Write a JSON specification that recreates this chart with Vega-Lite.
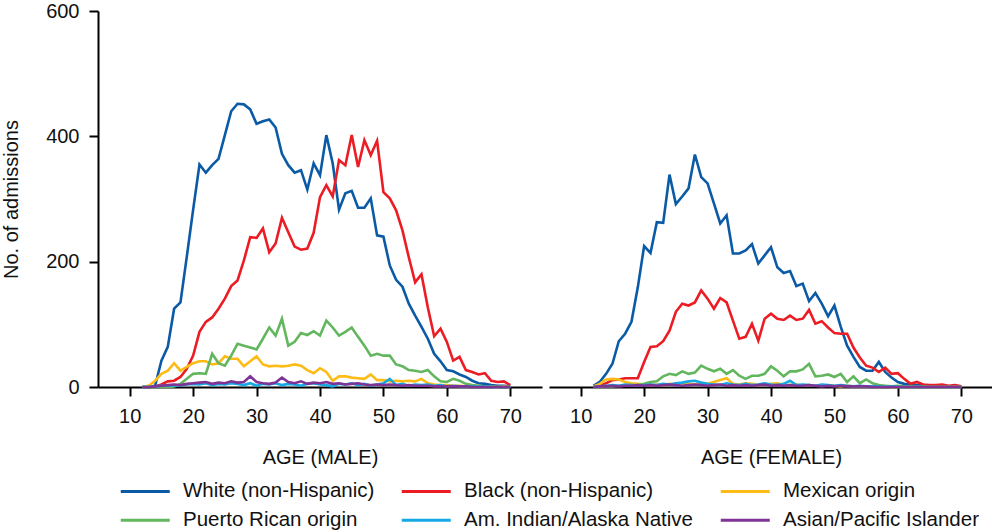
{
"$schema": "https://vega.github.io/schema/vega-lite/v6.json",
"padding": {"left": 1, "top": 1, "right": 0, "bottom": 0},
"config": {
  "font": "Liberation Sans",
  "view": {"stroke": null},
  "concat": {"spacing": 7},
  "axis": {"grid": false, "domainColor": "#000000", "domainWidth": 2, "tickColor": "#000000", "tickWidth": 2, "tickSize": 9, "labelFontSize": 20, "labelColor": "#111111", "titleFontSize": 20, "titleFontWeight": "normal", "titleColor": "#111111", "labelFlush": false, "labelOverlap": false, "labelBound": false}
},
"resolve": {"scale": {"color": "shared"}},
"datasets": {"adm": [
{"sex":"Male","age":12,"race":"White (non-Hispanic)","n":0},{"sex":"Male","age":13,"race":"White (non-Hispanic)","n":0},{"sex":"Male","age":14,"race":"White (non-Hispanic)","n":2},{"sex":"Male","age":15,"race":"White (non-Hispanic)","n":42},{"sex":"Male","age":16,"race":"White (non-Hispanic)","n":64},{"sex":"Male","age":17,"race":"White (non-Hispanic)","n":125},{"sex":"Male","age":18,"race":"White (non-Hispanic)","n":135},{"sex":"Male","age":19,"race":"White (non-Hispanic)","n":208},{"sex":"Male","age":20,"race":"White (non-Hispanic)","n":283},{"sex":"Male","age":21,"race":"White (non-Hispanic)","n":355},{"sex":"Male","age":22,"race":"White (non-Hispanic)","n":342},{"sex":"Male","age":23,"race":"White (non-Hispanic)","n":354},{"sex":"Male","age":24,"race":"White (non-Hispanic)","n":364},{"sex":"Male","age":25,"race":"White (non-Hispanic)","n":402},{"sex":"Male","age":26,"race":"White (non-Hispanic)","n":440},{"sex":"Male","age":27,"race":"White (non-Hispanic)","n":452},{"sex":"Male","age":28,"race":"White (non-Hispanic)","n":451},{"sex":"Male","age":29,"race":"White (non-Hispanic)","n":443},{"sex":"Male","age":30,"race":"White (non-Hispanic)","n":420},{"sex":"Male","age":31,"race":"White (non-Hispanic)","n":424},{"sex":"Male","age":32,"race":"White (non-Hispanic)","n":427},{"sex":"Male","age":33,"race":"White (non-Hispanic)","n":414},{"sex":"Male","age":34,"race":"White (non-Hispanic)","n":372},{"sex":"Male","age":35,"race":"White (non-Hispanic)","n":354},{"sex":"Male","age":36,"race":"White (non-Hispanic)","n":342},{"sex":"Male","age":37,"race":"White (non-Hispanic)","n":346},{"sex":"Male","age":38,"race":"White (non-Hispanic)","n":315},{"sex":"Male","age":39,"race":"White (non-Hispanic)","n":357},{"sex":"Male","age":40,"race":"White (non-Hispanic)","n":338},{"sex":"Male","age":41,"race":"White (non-Hispanic)","n":402},{"sex":"Male","age":42,"race":"White (non-Hispanic)","n":357},{"sex":"Male","age":43,"race":"White (non-Hispanic)","n":283},{"sex":"Male","age":44,"race":"White (non-Hispanic)","n":309},{"sex":"Male","age":45,"race":"White (non-Hispanic)","n":313},{"sex":"Male","age":46,"race":"White (non-Hispanic)","n":286},{"sex":"Male","age":47,"race":"White (non-Hispanic)","n":286},{"sex":"Male","age":48,"race":"White (non-Hispanic)","n":301},{"sex":"Male","age":49,"race":"White (non-Hispanic)","n":242},{"sex":"Male","age":50,"race":"White (non-Hispanic)","n":240},{"sex":"Male","age":51,"race":"White (non-Hispanic)","n":194},{"sex":"Male","age":52,"race":"White (non-Hispanic)","n":171},{"sex":"Male","age":53,"race":"White (non-Hispanic)","n":160},{"sex":"Male","age":54,"race":"White (non-Hispanic)","n":133},{"sex":"Male","age":55,"race":"White (non-Hispanic)","n":114},{"sex":"Male","age":56,"race":"White (non-Hispanic)","n":96},{"sex":"Male","age":57,"race":"White (non-Hispanic)","n":77},{"sex":"Male","age":58,"race":"White (non-Hispanic)","n":53},{"sex":"Male","age":59,"race":"White (non-Hispanic)","n":41},{"sex":"Male","age":60,"race":"White (non-Hispanic)","n":27},{"sex":"Male","age":61,"race":"White (non-Hispanic)","n":25},{"sex":"Male","age":62,"race":"White (non-Hispanic)","n":20},{"sex":"Male","age":63,"race":"White (non-Hispanic)","n":16},{"sex":"Male","age":64,"race":"White (non-Hispanic)","n":10},{"sex":"Male","age":65,"race":"White (non-Hispanic)","n":6},{"sex":"Male","age":66,"race":"White (non-Hispanic)","n":5},{"sex":"Male","age":67,"race":"White (non-Hispanic)","n":3},{"sex":"Male","age":68,"race":"White (non-Hispanic)","n":2},{"sex":"Male","age":69,"race":"White (non-Hispanic)","n":2},{"sex":"Male","age":70,"race":"White (non-Hispanic)","n":1},
{"sex":"Male","age":12,"race":"Black (non-Hispanic)","n":0},{"sex":"Male","age":13,"race":"Black (non-Hispanic)","n":0},{"sex":"Male","age":14,"race":"Black (non-Hispanic)","n":1},{"sex":"Male","age":15,"race":"Black (non-Hispanic)","n":4},{"sex":"Male","age":16,"race":"Black (non-Hispanic)","n":9},{"sex":"Male","age":17,"race":"Black (non-Hispanic)","n":10},{"sex":"Male","age":18,"race":"Black (non-Hispanic)","n":16},{"sex":"Male","age":19,"race":"Black (non-Hispanic)","n":29},{"sex":"Male","age":20,"race":"Black (non-Hispanic)","n":50},{"sex":"Male","age":21,"race":"Black (non-Hispanic)","n":88},{"sex":"Male","age":22,"race":"Black (non-Hispanic)","n":104},{"sex":"Male","age":23,"race":"Black (non-Hispanic)","n":111},{"sex":"Male","age":24,"race":"Black (non-Hispanic)","n":125},{"sex":"Male","age":25,"race":"Black (non-Hispanic)","n":141},{"sex":"Male","age":26,"race":"Black (non-Hispanic)","n":161},{"sex":"Male","age":27,"race":"Black (non-Hispanic)","n":170},{"sex":"Male","age":28,"race":"Black (non-Hispanic)","n":202},{"sex":"Male","age":29,"race":"Black (non-Hispanic)","n":239},{"sex":"Male","age":30,"race":"Black (non-Hispanic)","n":238},{"sex":"Male","age":31,"race":"Black (non-Hispanic)","n":253},{"sex":"Male","age":32,"race":"Black (non-Hispanic)","n":215},{"sex":"Male","age":33,"race":"Black (non-Hispanic)","n":229},{"sex":"Male","age":34,"race":"Black (non-Hispanic)","n":270},{"sex":"Male","age":35,"race":"Black (non-Hispanic)","n":247},{"sex":"Male","age":36,"race":"Black (non-Hispanic)","n":224},{"sex":"Male","age":37,"race":"Black (non-Hispanic)","n":219},{"sex":"Male","age":38,"race":"Black (non-Hispanic)","n":221},{"sex":"Male","age":39,"race":"Black (non-Hispanic)","n":246},{"sex":"Male","age":40,"race":"Black (non-Hispanic)","n":303},{"sex":"Male","age":41,"race":"Black (non-Hispanic)","n":322},{"sex":"Male","age":42,"race":"Black (non-Hispanic)","n":304},{"sex":"Male","age":43,"race":"Black (non-Hispanic)","n":362},{"sex":"Male","age":44,"race":"Black (non-Hispanic)","n":354},{"sex":"Male","age":45,"race":"Black (non-Hispanic)","n":402},{"sex":"Male","age":46,"race":"Black (non-Hispanic)","n":351},{"sex":"Male","age":47,"race":"Black (non-Hispanic)","n":394},{"sex":"Male","age":48,"race":"Black (non-Hispanic)","n":370},{"sex":"Male","age":49,"race":"Black (non-Hispanic)","n":393},{"sex":"Male","age":50,"race":"Black (non-Hispanic)","n":311},{"sex":"Male","age":51,"race":"Black (non-Hispanic)","n":301},{"sex":"Male","age":52,"race":"Black (non-Hispanic)","n":282},{"sex":"Male","age":53,"race":"Black (non-Hispanic)","n":250},{"sex":"Male","age":54,"race":"Black (non-Hispanic)","n":207},{"sex":"Male","age":55,"race":"Black (non-Hispanic)","n":167},{"sex":"Male","age":56,"race":"Black (non-Hispanic)","n":180},{"sex":"Male","age":57,"race":"Black (non-Hispanic)","n":127},{"sex":"Male","age":58,"race":"Black (non-Hispanic)","n":81},{"sex":"Male","age":59,"race":"Black (non-Hispanic)","n":93},{"sex":"Male","age":60,"race":"Black (non-Hispanic)","n":72},{"sex":"Male","age":61,"race":"Black (non-Hispanic)","n":42},{"sex":"Male","age":62,"race":"Black (non-Hispanic)","n":48},{"sex":"Male","age":63,"race":"Black (non-Hispanic)","n":27},{"sex":"Male","age":64,"race":"Black (non-Hispanic)","n":24},{"sex":"Male","age":65,"race":"Black (non-Hispanic)","n":20},{"sex":"Male","age":66,"race":"Black (non-Hispanic)","n":22},{"sex":"Male","age":67,"race":"Black (non-Hispanic)","n":10},{"sex":"Male","age":68,"race":"Black (non-Hispanic)","n":8},{"sex":"Male","age":69,"race":"Black (non-Hispanic)","n":9},{"sex":"Male","age":70,"race":"Black (non-Hispanic)","n":3},
{"sex":"Male","age":12,"race":"Mexican origin","n":0},{"sex":"Male","age":13,"race":"Mexican origin","n":2},{"sex":"Male","age":14,"race":"Mexican origin","n":10},{"sex":"Male","age":15,"race":"Mexican origin","n":21},{"sex":"Male","age":16,"race":"Mexican origin","n":26},{"sex":"Male","age":17,"race":"Mexican origin","n":38},{"sex":"Male","age":18,"race":"Mexican origin","n":26},{"sex":"Male","age":19,"race":"Mexican origin","n":32},{"sex":"Male","age":20,"race":"Mexican origin","n":38},{"sex":"Male","age":21,"race":"Mexican origin","n":41},{"sex":"Male","age":22,"race":"Mexican origin","n":41},{"sex":"Male","age":23,"race":"Mexican origin","n":36},{"sex":"Male","age":24,"race":"Mexican origin","n":38},{"sex":"Male","age":25,"race":"Mexican origin","n":49},{"sex":"Male","age":26,"race":"Mexican origin","n":45},{"sex":"Male","age":27,"race":"Mexican origin","n":45},{"sex":"Male","age":28,"race":"Mexican origin","n":33},{"sex":"Male","age":29,"race":"Mexican origin","n":41},{"sex":"Male","age":30,"race":"Mexican origin","n":49},{"sex":"Male","age":31,"race":"Mexican origin","n":36},{"sex":"Male","age":32,"race":"Mexican origin","n":33},{"sex":"Male","age":33,"race":"Mexican origin","n":34},{"sex":"Male","age":34,"race":"Mexican origin","n":33},{"sex":"Male","age":35,"race":"Mexican origin","n":34},{"sex":"Male","age":36,"race":"Mexican origin","n":36},{"sex":"Male","age":37,"race":"Mexican origin","n":34},{"sex":"Male","age":38,"race":"Mexican origin","n":27},{"sex":"Male","age":39,"race":"Mexican origin","n":22},{"sex":"Male","age":40,"race":"Mexican origin","n":30},{"sex":"Male","age":41,"race":"Mexican origin","n":24},{"sex":"Male","age":42,"race":"Mexican origin","n":10},{"sex":"Male","age":43,"race":"Mexican origin","n":17},{"sex":"Male","age":44,"race":"Mexican origin","n":17},{"sex":"Male","age":45,"race":"Mexican origin","n":15},{"sex":"Male","age":46,"race":"Mexican origin","n":14},{"sex":"Male","age":47,"race":"Mexican origin","n":13},{"sex":"Male","age":48,"race":"Mexican origin","n":20},{"sex":"Male","age":49,"race":"Mexican origin","n":11},{"sex":"Male","age":50,"race":"Mexican origin","n":11},{"sex":"Male","age":51,"race":"Mexican origin","n":9},{"sex":"Male","age":52,"race":"Mexican origin","n":10},{"sex":"Male","age":53,"race":"Mexican origin","n":9},{"sex":"Male","age":54,"race":"Mexican origin","n":10},{"sex":"Male","age":55,"race":"Mexican origin","n":9},{"sex":"Male","age":56,"race":"Mexican origin","n":13},{"sex":"Male","age":57,"race":"Mexican origin","n":6},{"sex":"Male","age":58,"race":"Mexican origin","n":4},{"sex":"Male","age":59,"race":"Mexican origin","n":3},{"sex":"Male","age":60,"race":"Mexican origin","n":3},{"sex":"Male","age":61,"race":"Mexican origin","n":2},{"sex":"Male","age":62,"race":"Mexican origin","n":2},{"sex":"Male","age":63,"race":"Mexican origin","n":1},{"sex":"Male","age":64,"race":"Mexican origin","n":2},{"sex":"Male","age":65,"race":"Mexican origin","n":1},{"sex":"Male","age":66,"race":"Mexican origin","n":1},{"sex":"Male","age":67,"race":"Mexican origin","n":1},{"sex":"Male","age":68,"race":"Mexican origin","n":0},{"sex":"Male","age":69,"race":"Mexican origin","n":1},{"sex":"Male","age":70,"race":"Mexican origin","n":0},
{"sex":"Male","age":12,"race":"Puerto Rican origin","n":0},{"sex":"Male","age":13,"race":"Puerto Rican origin","n":0},{"sex":"Male","age":14,"race":"Puerto Rican origin","n":0},{"sex":"Male","age":15,"race":"Puerto Rican origin","n":0},{"sex":"Male","age":16,"race":"Puerto Rican origin","n":0},{"sex":"Male","age":17,"race":"Puerto Rican origin","n":1},{"sex":"Male","age":18,"race":"Puerto Rican origin","n":5},{"sex":"Male","age":19,"race":"Puerto Rican origin","n":13},{"sex":"Male","age":20,"race":"Puerto Rican origin","n":21},{"sex":"Male","age":21,"race":"Puerto Rican origin","n":22},{"sex":"Male","age":22,"race":"Puerto Rican origin","n":21},{"sex":"Male","age":23,"race":"Puerto Rican origin","n":53},{"sex":"Male","age":24,"race":"Puerto Rican origin","n":38},{"sex":"Male","age":25,"race":"Puerto Rican origin","n":34},{"sex":"Male","age":26,"race":"Puerto Rican origin","n":50},{"sex":"Male","age":27,"race":"Puerto Rican origin","n":69},{"sex":"Male","age":28,"race":"Puerto Rican origin","n":66},{"sex":"Male","age":29,"race":"Puerto Rican origin","n":63},{"sex":"Male","age":30,"race":"Puerto Rican origin","n":60},{"sex":"Male","age":31,"race":"Puerto Rican origin","n":77},{"sex":"Male","age":32,"race":"Puerto Rican origin","n":95},{"sex":"Male","age":33,"race":"Puerto Rican origin","n":82},{"sex":"Male","age":34,"race":"Puerto Rican origin","n":109},{"sex":"Male","age":35,"race":"Puerto Rican origin","n":66},{"sex":"Male","age":36,"race":"Puerto Rican origin","n":72},{"sex":"Male","age":37,"race":"Puerto Rican origin","n":86},{"sex":"Male","age":38,"race":"Puerto Rican origin","n":83},{"sex":"Male","age":39,"race":"Puerto Rican origin","n":89},{"sex":"Male","age":40,"race":"Puerto Rican origin","n":82},{"sex":"Male","age":41,"race":"Puerto Rican origin","n":106},{"sex":"Male","age":42,"race":"Puerto Rican origin","n":95},{"sex":"Male","age":43,"race":"Puerto Rican origin","n":82},{"sex":"Male","age":44,"race":"Puerto Rican origin","n":88},{"sex":"Male","age":45,"race":"Puerto Rican origin","n":95},{"sex":"Male","age":46,"race":"Puerto Rican origin","n":80},{"sex":"Male","age":47,"race":"Puerto Rican origin","n":66},{"sex":"Male","age":48,"race":"Puerto Rican origin","n":50},{"sex":"Male","age":49,"race":"Puerto Rican origin","n":53},{"sex":"Male","age":50,"race":"Puerto Rican origin","n":50},{"sex":"Male","age":51,"race":"Puerto Rican origin","n":50},{"sex":"Male","age":52,"race":"Puerto Rican origin","n":36},{"sex":"Male","age":53,"race":"Puerto Rican origin","n":33},{"sex":"Male","age":54,"race":"Puerto Rican origin","n":27},{"sex":"Male","age":55,"race":"Puerto Rican origin","n":26},{"sex":"Male","age":56,"race":"Puerto Rican origin","n":24},{"sex":"Male","age":57,"race":"Puerto Rican origin","n":27},{"sex":"Male","age":58,"race":"Puerto Rican origin","n":17},{"sex":"Male","age":59,"race":"Puerto Rican origin","n":9},{"sex":"Male","age":60,"race":"Puerto Rican origin","n":8},{"sex":"Male","age":61,"race":"Puerto Rican origin","n":13},{"sex":"Male","age":62,"race":"Puerto Rican origin","n":10},{"sex":"Male","age":63,"race":"Puerto Rican origin","n":5},{"sex":"Male","age":64,"race":"Puerto Rican origin","n":3},{"sex":"Male","age":65,"race":"Puerto Rican origin","n":2},{"sex":"Male","age":66,"race":"Puerto Rican origin","n":1},{"sex":"Male","age":67,"race":"Puerto Rican origin","n":1},{"sex":"Male","age":68,"race":"Puerto Rican origin","n":0},{"sex":"Male","age":69,"race":"Puerto Rican origin","n":0},{"sex":"Male","age":70,"race":"Puerto Rican origin","n":0},
{"sex":"Male","age":12,"race":"Am. Indian/Alaska Native","n":0},{"sex":"Male","age":13,"race":"Am. Indian/Alaska Native","n":0},{"sex":"Male","age":14,"race":"Am. Indian/Alaska Native","n":1},{"sex":"Male","age":15,"race":"Am. Indian/Alaska Native","n":2},{"sex":"Male","age":16,"race":"Am. Indian/Alaska Native","n":2},{"sex":"Male","age":17,"race":"Am. Indian/Alaska Native","n":3},{"sex":"Male","age":18,"race":"Am. Indian/Alaska Native","n":2},{"sex":"Male","age":19,"race":"Am. Indian/Alaska Native","n":4},{"sex":"Male","age":20,"race":"Am. Indian/Alaska Native","n":5},{"sex":"Male","age":21,"race":"Am. Indian/Alaska Native","n":4},{"sex":"Male","age":22,"race":"Am. Indian/Alaska Native","n":6},{"sex":"Male","age":23,"race":"Am. Indian/Alaska Native","n":3},{"sex":"Male","age":24,"race":"Am. Indian/Alaska Native","n":5},{"sex":"Male","age":25,"race":"Am. Indian/Alaska Native","n":4},{"sex":"Male","age":26,"race":"Am. Indian/Alaska Native","n":6},{"sex":"Male","age":27,"race":"Am. Indian/Alaska Native","n":5},{"sex":"Male","age":28,"race":"Am. Indian/Alaska Native","n":3},{"sex":"Male","age":29,"race":"Am. Indian/Alaska Native","n":6},{"sex":"Male","age":30,"race":"Am. Indian/Alaska Native","n":2},{"sex":"Male","age":31,"race":"Am. Indian/Alaska Native","n":5},{"sex":"Male","age":32,"race":"Am. Indian/Alaska Native","n":4},{"sex":"Male","age":33,"race":"Am. Indian/Alaska Native","n":6},{"sex":"Male","age":34,"race":"Am. Indian/Alaska Native","n":3},{"sex":"Male","age":35,"race":"Am. Indian/Alaska Native","n":5},{"sex":"Male","age":36,"race":"Am. Indian/Alaska Native","n":4},{"sex":"Male","age":37,"race":"Am. Indian/Alaska Native","n":2},{"sex":"Male","age":38,"race":"Am. Indian/Alaska Native","n":5},{"sex":"Male","age":39,"race":"Am. Indian/Alaska Native","n":6},{"sex":"Male","age":40,"race":"Am. Indian/Alaska Native","n":4},{"sex":"Male","age":41,"race":"Am. Indian/Alaska Native","n":3},{"sex":"Male","age":42,"race":"Am. Indian/Alaska Native","n":1},{"sex":"Male","age":43,"race":"Am. Indian/Alaska Native","n":5},{"sex":"Male","age":44,"race":"Am. Indian/Alaska Native","n":4},{"sex":"Male","age":45,"race":"Am. Indian/Alaska Native","n":6},{"sex":"Male","age":46,"race":"Am. Indian/Alaska Native","n":3},{"sex":"Male","age":47,"race":"Am. Indian/Alaska Native","n":5},{"sex":"Male","age":48,"race":"Am. Indian/Alaska Native","n":2},{"sex":"Male","age":49,"race":"Am. Indian/Alaska Native","n":4},{"sex":"Male","age":50,"race":"Am. Indian/Alaska Native","n":6},{"sex":"Male","age":51,"race":"Am. Indian/Alaska Native","n":13},{"sex":"Male","age":52,"race":"Am. Indian/Alaska Native","n":3},{"sex":"Male","age":53,"race":"Am. Indian/Alaska Native","n":5},{"sex":"Male","age":54,"race":"Am. Indian/Alaska Native","n":2},{"sex":"Male","age":55,"race":"Am. Indian/Alaska Native","n":4},{"sex":"Male","age":56,"race":"Am. Indian/Alaska Native","n":3},{"sex":"Male","age":57,"race":"Am. Indian/Alaska Native","n":4},{"sex":"Male","age":58,"race":"Am. Indian/Alaska Native","n":2},{"sex":"Male","age":59,"race":"Am. Indian/Alaska Native","n":3},{"sex":"Male","age":60,"race":"Am. Indian/Alaska Native","n":1},{"sex":"Male","age":61,"race":"Am. Indian/Alaska Native","n":2},{"sex":"Male","age":62,"race":"Am. Indian/Alaska Native","n":1},{"sex":"Male","age":63,"race":"Am. Indian/Alaska Native","n":1},{"sex":"Male","age":64,"race":"Am. Indian/Alaska Native","n":1},{"sex":"Male","age":65,"race":"Am. Indian/Alaska Native","n":0},{"sex":"Male","age":66,"race":"Am. Indian/Alaska Native","n":1},{"sex":"Male","age":67,"race":"Am. Indian/Alaska Native","n":0},{"sex":"Male","age":68,"race":"Am. Indian/Alaska Native","n":0},{"sex":"Male","age":69,"race":"Am. Indian/Alaska Native","n":0},{"sex":"Male","age":70,"race":"Am. Indian/Alaska Native","n":0},
{"sex":"Male","age":12,"race":"Asian/Pacific Islander","n":0},{"sex":"Male","age":13,"race":"Asian/Pacific Islander","n":0},{"sex":"Male","age":14,"race":"Asian/Pacific Islander","n":1},{"sex":"Male","age":15,"race":"Asian/Pacific Islander","n":2},{"sex":"Male","age":16,"race":"Asian/Pacific Islander","n":3},{"sex":"Male","age":17,"race":"Asian/Pacific Islander","n":4},{"sex":"Male","age":18,"race":"Asian/Pacific Islander","n":3},{"sex":"Male","age":19,"race":"Asian/Pacific Islander","n":5},{"sex":"Male","age":20,"race":"Asian/Pacific Islander","n":6},{"sex":"Male","age":21,"race":"Asian/Pacific Islander","n":7},{"sex":"Male","age":22,"race":"Asian/Pacific Islander","n":8},{"sex":"Male","age":23,"race":"Asian/Pacific Islander","n":5},{"sex":"Male","age":24,"race":"Asian/Pacific Islander","n":7},{"sex":"Male","age":25,"race":"Asian/Pacific Islander","n":6},{"sex":"Male","age":26,"race":"Asian/Pacific Islander","n":9},{"sex":"Male","age":27,"race":"Asian/Pacific Islander","n":7},{"sex":"Male","age":28,"race":"Asian/Pacific Islander","n":8},{"sex":"Male","age":29,"race":"Asian/Pacific Islander","n":17},{"sex":"Male","age":30,"race":"Asian/Pacific Islander","n":8},{"sex":"Male","age":31,"race":"Asian/Pacific Islander","n":6},{"sex":"Male","age":32,"race":"Asian/Pacific Islander","n":5},{"sex":"Male","age":33,"race":"Asian/Pacific Islander","n":7},{"sex":"Male","age":34,"race":"Asian/Pacific Islander","n":15},{"sex":"Male","age":35,"race":"Asian/Pacific Islander","n":8},{"sex":"Male","age":36,"race":"Asian/Pacific Islander","n":6},{"sex":"Male","age":37,"race":"Asian/Pacific Islander","n":9},{"sex":"Male","age":38,"race":"Asian/Pacific Islander","n":5},{"sex":"Male","age":39,"race":"Asian/Pacific Islander","n":7},{"sex":"Male","age":40,"race":"Asian/Pacific Islander","n":6},{"sex":"Male","age":41,"race":"Asian/Pacific Islander","n":8},{"sex":"Male","age":42,"race":"Asian/Pacific Islander","n":5},{"sex":"Male","age":43,"race":"Asian/Pacific Islander","n":6},{"sex":"Male","age":44,"race":"Asian/Pacific Islander","n":4},{"sex":"Male","age":45,"race":"Asian/Pacific Islander","n":5},{"sex":"Male","age":46,"race":"Asian/Pacific Islander","n":6},{"sex":"Male","age":47,"race":"Asian/Pacific Islander","n":4},{"sex":"Male","age":48,"race":"Asian/Pacific Islander","n":3},{"sex":"Male","age":49,"race":"Asian/Pacific Islander","n":4},{"sex":"Male","age":50,"race":"Asian/Pacific Islander","n":3},{"sex":"Male","age":51,"race":"Asian/Pacific Islander","n":4},{"sex":"Male","age":52,"race":"Asian/Pacific Islander","n":3},{"sex":"Male","age":53,"race":"Asian/Pacific Islander","n":2},{"sex":"Male","age":54,"race":"Asian/Pacific Islander","n":3},{"sex":"Male","age":55,"race":"Asian/Pacific Islander","n":2},{"sex":"Male","age":56,"race":"Asian/Pacific Islander","n":2},{"sex":"Male","age":57,"race":"Asian/Pacific Islander","n":2},{"sex":"Male","age":58,"race":"Asian/Pacific Islander","n":1},{"sex":"Male","age":59,"race":"Asian/Pacific Islander","n":1},{"sex":"Male","age":60,"race":"Asian/Pacific Islander","n":1},{"sex":"Male","age":61,"race":"Asian/Pacific Islander","n":1},{"sex":"Male","age":62,"race":"Asian/Pacific Islander","n":1},{"sex":"Male","age":63,"race":"Asian/Pacific Islander","n":1},{"sex":"Male","age":64,"race":"Asian/Pacific Islander","n":0},{"sex":"Male","age":65,"race":"Asian/Pacific Islander","n":0},{"sex":"Male","age":66,"race":"Asian/Pacific Islander","n":0},{"sex":"Male","age":67,"race":"Asian/Pacific Islander","n":0},{"sex":"Male","age":68,"race":"Asian/Pacific Islander","n":0},{"sex":"Male","age":69,"race":"Asian/Pacific Islander","n":0},{"sex":"Male","age":70,"race":"Asian/Pacific Islander","n":0},
{"sex":"Female","age":12,"race":"White (non-Hispanic)","n":2},{"sex":"Female","age":13,"race":"White (non-Hispanic)","n":8},{"sex":"Female","age":14,"race":"White (non-Hispanic)","n":21},{"sex":"Female","age":15,"race":"White (non-Hispanic)","n":37},{"sex":"Female","age":16,"race":"White (non-Hispanic)","n":73},{"sex":"Female","age":17,"race":"White (non-Hispanic)","n":85},{"sex":"Female","age":18,"race":"White (non-Hispanic)","n":104},{"sex":"Female","age":19,"race":"White (non-Hispanic)","n":159},{"sex":"Female","age":20,"race":"White (non-Hispanic)","n":225},{"sex":"Female","age":21,"race":"White (non-Hispanic)","n":214},{"sex":"Female","age":22,"race":"White (non-Hispanic)","n":263},{"sex":"Female","age":23,"race":"White (non-Hispanic)","n":262},{"sex":"Female","age":24,"race":"White (non-Hispanic)","n":339},{"sex":"Female","age":25,"race":"White (non-Hispanic)","n":292},{"sex":"Female","age":26,"race":"White (non-Hispanic)","n":304},{"sex":"Female","age":27,"race":"White (non-Hispanic)","n":317},{"sex":"Female","age":28,"race":"White (non-Hispanic)","n":371},{"sex":"Female","age":29,"race":"White (non-Hispanic)","n":335},{"sex":"Female","age":30,"race":"White (non-Hispanic)","n":325},{"sex":"Female","age":31,"race":"White (non-Hispanic)","n":293},{"sex":"Female","age":32,"race":"White (non-Hispanic)","n":261},{"sex":"Female","age":33,"race":"White (non-Hispanic)","n":274},{"sex":"Female","age":34,"race":"White (non-Hispanic)","n":213},{"sex":"Female","age":35,"race":"White (non-Hispanic)","n":213},{"sex":"Female","age":36,"race":"White (non-Hispanic)","n":218},{"sex":"Female","age":37,"race":"White (non-Hispanic)","n":228},{"sex":"Female","age":38,"race":"White (non-Hispanic)","n":197},{"sex":"Female","age":39,"race":"White (non-Hispanic)","n":210},{"sex":"Female","age":40,"race":"White (non-Hispanic)","n":223},{"sex":"Female","age":41,"race":"White (non-Hispanic)","n":191},{"sex":"Female","age":42,"race":"White (non-Hispanic)","n":182},{"sex":"Female","age":43,"race":"White (non-Hispanic)","n":185},{"sex":"Female","age":44,"race":"White (non-Hispanic)","n":161},{"sex":"Female","age":45,"race":"White (non-Hispanic)","n":165},{"sex":"Female","age":46,"race":"White (non-Hispanic)","n":137},{"sex":"Female","age":47,"race":"White (non-Hispanic)","n":150},{"sex":"Female","age":48,"race":"White (non-Hispanic)","n":133},{"sex":"Female","age":49,"race":"White (non-Hispanic)","n":113},{"sex":"Female","age":50,"race":"White (non-Hispanic)","n":130},{"sex":"Female","age":51,"race":"White (non-Hispanic)","n":96},{"sex":"Female","age":52,"race":"White (non-Hispanic)","n":66},{"sex":"Female","age":53,"race":"White (non-Hispanic)","n":48},{"sex":"Female","age":54,"race":"White (non-Hispanic)","n":32},{"sex":"Female","age":55,"race":"White (non-Hispanic)","n":26},{"sex":"Female","age":56,"race":"White (non-Hispanic)","n":26},{"sex":"Female","age":57,"race":"White (non-Hispanic)","n":40},{"sex":"Female","age":58,"race":"White (non-Hispanic)","n":24},{"sex":"Female","age":59,"race":"White (non-Hispanic)","n":15},{"sex":"Female","age":60,"race":"White (non-Hispanic)","n":8},{"sex":"Female","age":61,"race":"White (non-Hispanic)","n":5},{"sex":"Female","age":62,"race":"White (non-Hispanic)","n":4},{"sex":"Female","age":63,"race":"White (non-Hispanic)","n":3},{"sex":"Female","age":64,"race":"White (non-Hispanic)","n":3},{"sex":"Female","age":65,"race":"White (non-Hispanic)","n":2},{"sex":"Female","age":66,"race":"White (non-Hispanic)","n":2},{"sex":"Female","age":67,"race":"White (non-Hispanic)","n":2},{"sex":"Female","age":68,"race":"White (non-Hispanic)","n":1},{"sex":"Female","age":69,"race":"White (non-Hispanic)","n":1},{"sex":"Female","age":70,"race":"White (non-Hispanic)","n":1},
{"sex":"Female","age":12,"race":"Black (non-Hispanic)","n":0},{"sex":"Female","age":13,"race":"Black (non-Hispanic)","n":2},{"sex":"Female","age":14,"race":"Black (non-Hispanic)","n":6},{"sex":"Female","age":15,"race":"Black (non-Hispanic)","n":11},{"sex":"Female","age":16,"race":"Black (non-Hispanic)","n":12},{"sex":"Female","age":17,"race":"Black (non-Hispanic)","n":14},{"sex":"Female","age":18,"race":"Black (non-Hispanic)","n":14},{"sex":"Female","age":19,"race":"Black (non-Hispanic)","n":14},{"sex":"Female","age":20,"race":"Black (non-Hispanic)","n":40},{"sex":"Female","age":21,"race":"Black (non-Hispanic)","n":64},{"sex":"Female","age":22,"race":"Black (non-Hispanic)","n":65},{"sex":"Female","age":23,"race":"Black (non-Hispanic)","n":73},{"sex":"Female","age":24,"race":"Black (non-Hispanic)","n":90},{"sex":"Female","age":25,"race":"Black (non-Hispanic)","n":120},{"sex":"Female","age":26,"race":"Black (non-Hispanic)","n":133},{"sex":"Female","age":27,"race":"Black (non-Hispanic)","n":130},{"sex":"Female","age":28,"race":"Black (non-Hispanic)","n":135},{"sex":"Female","age":29,"race":"Black (non-Hispanic)","n":154},{"sex":"Female","age":30,"race":"Black (non-Hispanic)","n":141},{"sex":"Female","age":31,"race":"Black (non-Hispanic)","n":125},{"sex":"Female","age":32,"race":"Black (non-Hispanic)","n":142},{"sex":"Female","age":33,"race":"Black (non-Hispanic)","n":135},{"sex":"Female","age":34,"race":"Black (non-Hispanic)","n":106},{"sex":"Female","age":35,"race":"Black (non-Hispanic)","n":77},{"sex":"Female","age":36,"race":"Black (non-Hispanic)","n":80},{"sex":"Female","age":37,"race":"Black (non-Hispanic)","n":101},{"sex":"Female","age":38,"race":"Black (non-Hispanic)","n":74},{"sex":"Female","age":39,"race":"Black (non-Hispanic)","n":109},{"sex":"Female","age":40,"race":"Black (non-Hispanic)","n":117},{"sex":"Female","age":41,"race":"Black (non-Hispanic)","n":109},{"sex":"Female","age":42,"race":"Black (non-Hispanic)","n":107},{"sex":"Female","age":43,"race":"Black (non-Hispanic)","n":114},{"sex":"Female","age":44,"race":"Black (non-Hispanic)","n":107},{"sex":"Female","age":45,"race":"Black (non-Hispanic)","n":109},{"sex":"Female","age":46,"race":"Black (non-Hispanic)","n":123},{"sex":"Female","age":47,"race":"Black (non-Hispanic)","n":101},{"sex":"Female","age":48,"race":"Black (non-Hispanic)","n":105},{"sex":"Female","age":49,"race":"Black (non-Hispanic)","n":95},{"sex":"Female","age":50,"race":"Black (non-Hispanic)","n":86},{"sex":"Female","age":51,"race":"Black (non-Hispanic)","n":85},{"sex":"Female","age":52,"race":"Black (non-Hispanic)","n":85},{"sex":"Female","age":53,"race":"Black (non-Hispanic)","n":63},{"sex":"Female","age":54,"race":"Black (non-Hispanic)","n":47},{"sex":"Female","age":55,"race":"Black (non-Hispanic)","n":34},{"sex":"Female","age":56,"race":"Black (non-Hispanic)","n":31},{"sex":"Female","age":57,"race":"Black (non-Hispanic)","n":24},{"sex":"Female","age":58,"race":"Black (non-Hispanic)","n":31},{"sex":"Female","age":59,"race":"Black (non-Hispanic)","n":21},{"sex":"Female","age":60,"race":"Black (non-Hispanic)","n":22},{"sex":"Female","age":61,"race":"Black (non-Hispanic)","n":13},{"sex":"Female","age":62,"race":"Black (non-Hispanic)","n":5},{"sex":"Female","age":63,"race":"Black (non-Hispanic)","n":8},{"sex":"Female","age":64,"race":"Black (non-Hispanic)","n":4},{"sex":"Female","age":65,"race":"Black (non-Hispanic)","n":3},{"sex":"Female","age":66,"race":"Black (non-Hispanic)","n":3},{"sex":"Female","age":67,"race":"Black (non-Hispanic)","n":4},{"sex":"Female","age":68,"race":"Black (non-Hispanic)","n":2},{"sex":"Female","age":69,"race":"Black (non-Hispanic)","n":3},{"sex":"Female","age":70,"race":"Black (non-Hispanic)","n":1},
{"sex":"Female","age":12,"race":"Mexican origin","n":1},{"sex":"Female","age":13,"race":"Mexican origin","n":5},{"sex":"Female","age":14,"race":"Mexican origin","n":12},{"sex":"Female","age":15,"race":"Mexican origin","n":13},{"sex":"Female","age":16,"race":"Mexican origin","n":12},{"sex":"Female","age":17,"race":"Mexican origin","n":8},{"sex":"Female","age":18,"race":"Mexican origin","n":6},{"sex":"Female","age":19,"race":"Mexican origin","n":5},{"sex":"Female","age":20,"race":"Mexican origin","n":4},{"sex":"Female","age":21,"race":"Mexican origin","n":3},{"sex":"Female","age":22,"race":"Mexican origin","n":4},{"sex":"Female","age":23,"race":"Mexican origin","n":3},{"sex":"Female","age":24,"race":"Mexican origin","n":5},{"sex":"Female","age":25,"race":"Mexican origin","n":4},{"sex":"Female","age":26,"race":"Mexican origin","n":6},{"sex":"Female","age":27,"race":"Mexican origin","n":5},{"sex":"Female","age":28,"race":"Mexican origin","n":4},{"sex":"Female","age":29,"race":"Mexican origin","n":6},{"sex":"Female","age":30,"race":"Mexican origin","n":5},{"sex":"Female","age":31,"race":"Mexican origin","n":8},{"sex":"Female","age":32,"race":"Mexican origin","n":11},{"sex":"Female","age":33,"race":"Mexican origin","n":14},{"sex":"Female","age":34,"race":"Mexican origin","n":5},{"sex":"Female","age":35,"race":"Mexican origin","n":4},{"sex":"Female","age":36,"race":"Mexican origin","n":6},{"sex":"Female","age":37,"race":"Mexican origin","n":5},{"sex":"Female","age":38,"race":"Mexican origin","n":3},{"sex":"Female","age":39,"race":"Mexican origin","n":4},{"sex":"Female","age":40,"race":"Mexican origin","n":5},{"sex":"Female","age":41,"race":"Mexican origin","n":6},{"sex":"Female","age":42,"race":"Mexican origin","n":4},{"sex":"Female","age":43,"race":"Mexican origin","n":3},{"sex":"Female","age":44,"race":"Mexican origin","n":4},{"sex":"Female","age":45,"race":"Mexican origin","n":2},{"sex":"Female","age":46,"race":"Mexican origin","n":3},{"sex":"Female","age":47,"race":"Mexican origin","n":2},{"sex":"Female","age":48,"race":"Mexican origin","n":3},{"sex":"Female","age":49,"race":"Mexican origin","n":2},{"sex":"Female","age":50,"race":"Mexican origin","n":2},{"sex":"Female","age":51,"race":"Mexican origin","n":1},{"sex":"Female","age":52,"race":"Mexican origin","n":2},{"sex":"Female","age":53,"race":"Mexican origin","n":1},{"sex":"Female","age":54,"race":"Mexican origin","n":1},{"sex":"Female","age":55,"race":"Mexican origin","n":1},{"sex":"Female","age":56,"race":"Mexican origin","n":1},{"sex":"Female","age":57,"race":"Mexican origin","n":0},{"sex":"Female","age":58,"race":"Mexican origin","n":1},{"sex":"Female","age":59,"race":"Mexican origin","n":0},{"sex":"Female","age":60,"race":"Mexican origin","n":0},{"sex":"Female","age":61,"race":"Mexican origin","n":0},{"sex":"Female","age":62,"race":"Mexican origin","n":0},{"sex":"Female","age":63,"race":"Mexican origin","n":0},{"sex":"Female","age":64,"race":"Mexican origin","n":0},{"sex":"Female","age":65,"race":"Mexican origin","n":0},{"sex":"Female","age":66,"race":"Mexican origin","n":0},{"sex":"Female","age":67,"race":"Mexican origin","n":0},{"sex":"Female","age":68,"race":"Mexican origin","n":0},{"sex":"Female","age":69,"race":"Mexican origin","n":0},{"sex":"Female","age":70,"race":"Mexican origin","n":0},
{"sex":"Female","age":12,"race":"Puerto Rican origin","n":0},{"sex":"Female","age":13,"race":"Puerto Rican origin","n":0},{"sex":"Female","age":14,"race":"Puerto Rican origin","n":1},{"sex":"Female","age":15,"race":"Puerto Rican origin","n":1},{"sex":"Female","age":16,"race":"Puerto Rican origin","n":2},{"sex":"Female","age":17,"race":"Puerto Rican origin","n":2},{"sex":"Female","age":18,"race":"Puerto Rican origin","n":3},{"sex":"Female","age":19,"race":"Puerto Rican origin","n":3},{"sex":"Female","age":20,"race":"Puerto Rican origin","n":5},{"sex":"Female","age":21,"race":"Puerto Rican origin","n":8},{"sex":"Female","age":22,"race":"Puerto Rican origin","n":9},{"sex":"Female","age":23,"race":"Puerto Rican origin","n":17},{"sex":"Female","age":24,"race":"Puerto Rican origin","n":21},{"sex":"Female","age":25,"race":"Puerto Rican origin","n":19},{"sex":"Female","age":26,"race":"Puerto Rican origin","n":25},{"sex":"Female","age":27,"race":"Puerto Rican origin","n":21},{"sex":"Female","age":28,"race":"Puerto Rican origin","n":23},{"sex":"Female","age":29,"race":"Puerto Rican origin","n":34},{"sex":"Female","age":30,"race":"Puerto Rican origin","n":29},{"sex":"Female","age":31,"race":"Puerto Rican origin","n":25},{"sex":"Female","age":32,"race":"Puerto Rican origin","n":29},{"sex":"Female","age":33,"race":"Puerto Rican origin","n":21},{"sex":"Female","age":34,"race":"Puerto Rican origin","n":27},{"sex":"Female","age":35,"race":"Puerto Rican origin","n":18},{"sex":"Female","age":36,"race":"Puerto Rican origin","n":13},{"sex":"Female","age":37,"race":"Puerto Rican origin","n":18},{"sex":"Female","age":38,"race":"Puerto Rican origin","n":18},{"sex":"Female","age":39,"race":"Puerto Rican origin","n":21},{"sex":"Female","age":40,"race":"Puerto Rican origin","n":33},{"sex":"Female","age":41,"race":"Puerto Rican origin","n":26},{"sex":"Female","age":42,"race":"Puerto Rican origin","n":17},{"sex":"Female","age":43,"race":"Puerto Rican origin","n":25},{"sex":"Female","age":44,"race":"Puerto Rican origin","n":25},{"sex":"Female","age":45,"race":"Puerto Rican origin","n":28},{"sex":"Female","age":46,"race":"Puerto Rican origin","n":37},{"sex":"Female","age":47,"race":"Puerto Rican origin","n":17},{"sex":"Female","age":48,"race":"Puerto Rican origin","n":18},{"sex":"Female","age":49,"race":"Puerto Rican origin","n":20},{"sex":"Female","age":50,"race":"Puerto Rican origin","n":16},{"sex":"Female","age":51,"race":"Puerto Rican origin","n":21},{"sex":"Female","age":52,"race":"Puerto Rican origin","n":8},{"sex":"Female","age":53,"race":"Puerto Rican origin","n":17},{"sex":"Female","age":54,"race":"Puerto Rican origin","n":6},{"sex":"Female","age":55,"race":"Puerto Rican origin","n":12},{"sex":"Female","age":56,"race":"Puerto Rican origin","n":6},{"sex":"Female","age":57,"race":"Puerto Rican origin","n":3},{"sex":"Female","age":58,"race":"Puerto Rican origin","n":2},{"sex":"Female","age":59,"race":"Puerto Rican origin","n":1},{"sex":"Female","age":60,"race":"Puerto Rican origin","n":2},{"sex":"Female","age":61,"race":"Puerto Rican origin","n":1},{"sex":"Female","age":62,"race":"Puerto Rican origin","n":1},{"sex":"Female","age":63,"race":"Puerto Rican origin","n":0},{"sex":"Female","age":64,"race":"Puerto Rican origin","n":1},{"sex":"Female","age":65,"race":"Puerto Rican origin","n":0},{"sex":"Female","age":66,"race":"Puerto Rican origin","n":0},{"sex":"Female","age":67,"race":"Puerto Rican origin","n":0},{"sex":"Female","age":68,"race":"Puerto Rican origin","n":0},{"sex":"Female","age":69,"race":"Puerto Rican origin","n":0},{"sex":"Female","age":70,"race":"Puerto Rican origin","n":0},
{"sex":"Female","age":12,"race":"Am. Indian/Alaska Native","n":0},{"sex":"Female","age":13,"race":"Am. Indian/Alaska Native","n":1},{"sex":"Female","age":14,"race":"Am. Indian/Alaska Native","n":2},{"sex":"Female","age":15,"race":"Am. Indian/Alaska Native","n":3},{"sex":"Female","age":16,"race":"Am. Indian/Alaska Native","n":2},{"sex":"Female","age":17,"race":"Am. Indian/Alaska Native","n":4},{"sex":"Female","age":18,"race":"Am. Indian/Alaska Native","n":3},{"sex":"Female","age":19,"race":"Am. Indian/Alaska Native","n":2},{"sex":"Female","age":20,"race":"Am. Indian/Alaska Native","n":3},{"sex":"Female","age":21,"race":"Am. Indian/Alaska Native","n":4},{"sex":"Female","age":22,"race":"Am. Indian/Alaska Native","n":3},{"sex":"Female","age":23,"race":"Am. Indian/Alaska Native","n":5},{"sex":"Female","age":24,"race":"Am. Indian/Alaska Native","n":4},{"sex":"Female","age":25,"race":"Am. Indian/Alaska Native","n":6},{"sex":"Female","age":26,"race":"Am. Indian/Alaska Native","n":7},{"sex":"Female","age":27,"race":"Am. Indian/Alaska Native","n":9},{"sex":"Female","age":28,"race":"Am. Indian/Alaska Native","n":10},{"sex":"Female","age":29,"race":"Am. Indian/Alaska Native","n":7},{"sex":"Female","age":30,"race":"Am. Indian/Alaska Native","n":5},{"sex":"Female","age":31,"race":"Am. Indian/Alaska Native","n":4},{"sex":"Female","age":32,"race":"Am. Indian/Alaska Native","n":3},{"sex":"Female","age":33,"race":"Am. Indian/Alaska Native","n":6},{"sex":"Female","age":34,"race":"Am. Indian/Alaska Native","n":4},{"sex":"Female","age":35,"race":"Am. Indian/Alaska Native","n":3},{"sex":"Female","age":36,"race":"Am. Indian/Alaska Native","n":5},{"sex":"Female","age":37,"race":"Am. Indian/Alaska Native","n":3},{"sex":"Female","age":38,"race":"Am. Indian/Alaska Native","n":4},{"sex":"Female","age":39,"race":"Am. Indian/Alaska Native","n":6},{"sex":"Female","age":40,"race":"Am. Indian/Alaska Native","n":4},{"sex":"Female","age":41,"race":"Am. Indian/Alaska Native","n":3},{"sex":"Female","age":42,"race":"Am. Indian/Alaska Native","n":5},{"sex":"Female","age":43,"race":"Am. Indian/Alaska Native","n":10},{"sex":"Female","age":44,"race":"Am. Indian/Alaska Native","n":3},{"sex":"Female","age":45,"race":"Am. Indian/Alaska Native","n":4},{"sex":"Female","age":46,"race":"Am. Indian/Alaska Native","n":3},{"sex":"Female","age":47,"race":"Am. Indian/Alaska Native","n":2},{"sex":"Female","age":48,"race":"Am. Indian/Alaska Native","n":4},{"sex":"Female","age":49,"race":"Am. Indian/Alaska Native","n":3},{"sex":"Female","age":50,"race":"Am. Indian/Alaska Native","n":2},{"sex":"Female","age":51,"race":"Am. Indian/Alaska Native","n":3},{"sex":"Female","age":52,"race":"Am. Indian/Alaska Native","n":2},{"sex":"Female","age":53,"race":"Am. Indian/Alaska Native","n":1},{"sex":"Female","age":54,"race":"Am. Indian/Alaska Native","n":2},{"sex":"Female","age":55,"race":"Am. Indian/Alaska Native","n":1},{"sex":"Female","age":56,"race":"Am. Indian/Alaska Native","n":1},{"sex":"Female","age":57,"race":"Am. Indian/Alaska Native","n":1},{"sex":"Female","age":58,"race":"Am. Indian/Alaska Native","n":0},{"sex":"Female","age":59,"race":"Am. Indian/Alaska Native","n":1},{"sex":"Female","age":60,"race":"Am. Indian/Alaska Native","n":0},{"sex":"Female","age":61,"race":"Am. Indian/Alaska Native","n":0},{"sex":"Female","age":62,"race":"Am. Indian/Alaska Native","n":0},{"sex":"Female","age":63,"race":"Am. Indian/Alaska Native","n":0},{"sex":"Female","age":64,"race":"Am. Indian/Alaska Native","n":0},{"sex":"Female","age":65,"race":"Am. Indian/Alaska Native","n":0},{"sex":"Female","age":66,"race":"Am. Indian/Alaska Native","n":0},{"sex":"Female","age":67,"race":"Am. Indian/Alaska Native","n":0},{"sex":"Female","age":68,"race":"Am. Indian/Alaska Native","n":0},{"sex":"Female","age":69,"race":"Am. Indian/Alaska Native","n":0},{"sex":"Female","age":70,"race":"Am. Indian/Alaska Native","n":0},
{"sex":"Female","age":12,"race":"Asian/Pacific Islander","n":0},{"sex":"Female","age":13,"race":"Asian/Pacific Islander","n":1},{"sex":"Female","age":14,"race":"Asian/Pacific Islander","n":1},{"sex":"Female","age":15,"race":"Asian/Pacific Islander","n":2},{"sex":"Female","age":16,"race":"Asian/Pacific Islander","n":1},{"sex":"Female","age":17,"race":"Asian/Pacific Islander","n":2},{"sex":"Female","age":18,"race":"Asian/Pacific Islander","n":2},{"sex":"Female","age":19,"race":"Asian/Pacific Islander","n":3},{"sex":"Female","age":20,"race":"Asian/Pacific Islander","n":2},{"sex":"Female","age":21,"race":"Asian/Pacific Islander","n":3},{"sex":"Female","age":22,"race":"Asian/Pacific Islander","n":2},{"sex":"Female","age":23,"race":"Asian/Pacific Islander","n":3},{"sex":"Female","age":24,"race":"Asian/Pacific Islander","n":4},{"sex":"Female","age":25,"race":"Asian/Pacific Islander","n":3},{"sex":"Female","age":26,"race":"Asian/Pacific Islander","n":2},{"sex":"Female","age":27,"race":"Asian/Pacific Islander","n":3},{"sex":"Female","age":28,"race":"Asian/Pacific Islander","n":4},{"sex":"Female","age":29,"race":"Asian/Pacific Islander","n":3},{"sex":"Female","age":30,"race":"Asian/Pacific Islander","n":2},{"sex":"Female","age":31,"race":"Asian/Pacific Islander","n":3},{"sex":"Female","age":32,"race":"Asian/Pacific Islander","n":4},{"sex":"Female","age":33,"race":"Asian/Pacific Islander","n":2},{"sex":"Female","age":34,"race":"Asian/Pacific Islander","n":3},{"sex":"Female","age":35,"race":"Asian/Pacific Islander","n":2},{"sex":"Female","age":36,"race":"Asian/Pacific Islander","n":3},{"sex":"Female","age":37,"race":"Asian/Pacific Islander","n":2},{"sex":"Female","age":38,"race":"Asian/Pacific Islander","n":3},{"sex":"Female","age":39,"race":"Asian/Pacific Islander","n":4},{"sex":"Female","age":40,"race":"Asian/Pacific Islander","n":2},{"sex":"Female","age":41,"race":"Asian/Pacific Islander","n":3},{"sex":"Female","age":42,"race":"Asian/Pacific Islander","n":2},{"sex":"Female","age":43,"race":"Asian/Pacific Islander","n":3},{"sex":"Female","age":44,"race":"Asian/Pacific Islander","n":2},{"sex":"Female","age":45,"race":"Asian/Pacific Islander","n":2},{"sex":"Female","age":46,"race":"Asian/Pacific Islander","n":3},{"sex":"Female","age":47,"race":"Asian/Pacific Islander","n":2},{"sex":"Female","age":48,"race":"Asian/Pacific Islander","n":1},{"sex":"Female","age":49,"race":"Asian/Pacific Islander","n":2},{"sex":"Female","age":50,"race":"Asian/Pacific Islander","n":1},{"sex":"Female","age":51,"race":"Asian/Pacific Islander","n":2},{"sex":"Female","age":52,"race":"Asian/Pacific Islander","n":1},{"sex":"Female","age":53,"race":"Asian/Pacific Islander","n":1},{"sex":"Female","age":54,"race":"Asian/Pacific Islander","n":1},{"sex":"Female","age":55,"race":"Asian/Pacific Islander","n":1},{"sex":"Female","age":56,"race":"Asian/Pacific Islander","n":0},{"sex":"Female","age":57,"race":"Asian/Pacific Islander","n":0},{"sex":"Female","age":58,"race":"Asian/Pacific Islander","n":0},{"sex":"Female","age":59,"race":"Asian/Pacific Islander","n":0},{"sex":"Female","age":60,"race":"Asian/Pacific Islander","n":0},{"sex":"Female","age":61,"race":"Asian/Pacific Islander","n":0},{"sex":"Female","age":62,"race":"Asian/Pacific Islander","n":0},{"sex":"Female","age":63,"race":"Asian/Pacific Islander","n":0},{"sex":"Female","age":64,"race":"Asian/Pacific Islander","n":0},{"sex":"Female","age":65,"race":"Asian/Pacific Islander","n":0},{"sex":"Female","age":66,"race":"Asian/Pacific Islander","n":0},{"sex":"Female","age":67,"race":"Asian/Pacific Islander","n":0},{"sex":"Female","age":68,"race":"Asian/Pacific Islander","n":0},{"sex":"Female","age":69,"race":"Asian/Pacific Islander","n":0},{"sex":"Female","age":70,"race":"Asian/Pacific Islander","n":0}
]},
"hconcat": [
 {
  "width": 444, "height": 376,
  "data": {"name": "adm"},
  "transform": [{"filter": "datum.sex == 'Male'"}],
  "mark": {"type": "line", "strokeWidth": 2.6},
  "encoding": {
   "x": {"field": "age", "type": "quantitative", "scale": {"domain": [5, 75], "nice": false, "zero": false}, "axis": {"values": [10, 20, 30, 40, 50, 60, 70], "title": "AGE (MALE)", "labelPadding": 10, "titlePadding": 21}},
   "y": {"field": "n", "type": "quantitative", "scale": {"domain": [0, 600], "nice": false}, "axis": {"values": [0, 200, 400, 600], "title": "No. of admissions", "labelPadding": 10, "titlePadding": 24}},
   "color": {"field": "race", "type": "nominal",
     "scale": {"domain": ["White (non-Hispanic)", "Black (non-Hispanic)", "Mexican origin", "Puerto Rican origin", "Am. Indian/Alaska Native", "Asian/Pacific Islander"], "range": ["#0b5aa6", "#ec1c24", "#fcbc15", "#62b65d", "#14a8e4", "#7e3395"]},
     "legend": {"title": null, "orient": "none", "legendX": 37, "legendY": 470, "columns": 3, "direction": "horizontal", "symbolType": "M-4,0H4", "symbolSize": 150, "symbolStrokeWidth": 3, "symbolFillColor": "transparent", "labelFontSize": 20.5, "labelColor": "#111111", "labelOffset": 27.5, "columnPadding": 20, "rowPadding": 8, "labelLimit": 400}},
   "order": {"field": "age", "type": "quantitative"}
  }
 },
 {
  "width": 444, "height": 376,
  "data": {"name": "adm"},
  "transform": [{"filter": "datum.sex == 'Female'"}],
  "mark": {"type": "line", "strokeWidth": 2.6},
  "encoding": {
   "x": {"field": "age", "type": "quantitative", "scale": {"domain": [5, 75], "nice": false, "zero": false}, "axis": {"values": [10, 20, 30, 40, 50, 60, 70], "title": "AGE (FEMALE)", "labelPadding": 10, "titlePadding": 21}},
   "y": {"field": "n", "type": "quantitative", "scale": {"domain": [0, 600], "nice": false}, "axis": null},
   "color": {"field": "race", "type": "nominal",
     "scale": {"domain": ["White (non-Hispanic)", "Black (non-Hispanic)", "Mexican origin", "Puerto Rican origin", "Am. Indian/Alaska Native", "Asian/Pacific Islander"], "range": ["#0b5aa6", "#ec1c24", "#fcbc15", "#62b65d", "#14a8e4", "#7e3395"]}},
   "order": {"field": "age", "type": "quantitative"}
  }
 }
]
}
